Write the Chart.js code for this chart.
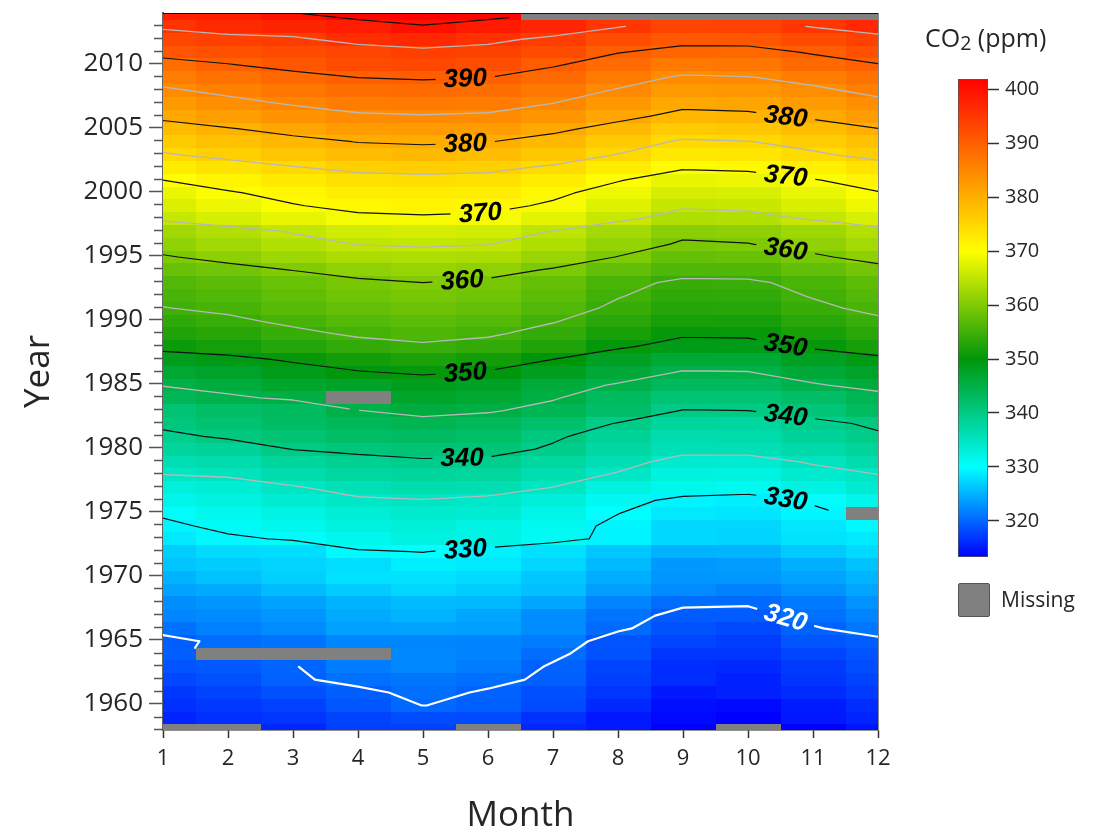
<!DOCTYPE html>
<html>
<head>
<meta charset="utf-8">
<script src="https://cdn.jsdelivr.net/npm/chart.js@4.4.1/dist/chart.umd.min.js"></script>
<style>
  body { margin: 0; background: #fff; }
  #wrap { position: relative; width: 1094px; height: 837px; font-family: 'Open Sans', sans-serif; color: #262626; }
  #main { position: absolute; left: 0; top: 0; }
  #bar { position: absolute; left: 900px; top: 0; }
  .txt { position: absolute; white-space: nowrap; }
  #cbTitle { left: 925px; top: 22px; font-size: 25px; line-height: 30px; }
  #cbTitle sub { font-size: 0.78em; vertical-align: -0.15em; }
  #missBox { position: absolute; left: 958px; top: 583px; width: 30px; height: 32px; background: #808080; border: 1px solid #555; border-radius: 2px; }
  #missText { left: 1001px; top: 585px; font-size: 21px; line-height: 28px; }
</style>
</head>
<body>
<div id="wrap">
  <canvas id="main" width="1094" height="837"></canvas>
  <canvas id="bar" width="194" height="600"></canvas>
  <div class="txt" id="cbTitle">CO<sub>2</sub> (ppm)</div>
  <div id="missBox"></div>
  <div class="txt" id="missText">Missing</div>
</div>
<script>
'use strict';

// ******** DATA **************
let months = [1, 2, 3, 4, 5, 6, 7, 8, 9, 10, 11, 12];
let firstYear = 1958;

// monthly mean CO2 (ppm), one row per year from 1958, null = missing
let co2Rows = [
  [null, null, 315.71, 317.45, 317.50, null, 315.86, 314.93, 313.20, null, 313.33, 314.67], // 1958
  [315.62, 316.38, 316.71, 317.72, 318.29, 318.15, 316.54, 314.80, 313.84, 313.26, 314.80, 315.58],
  [316.43, 316.97, 317.58, 319.02, 320.03, 319.59, 318.18, 315.91, 314.16, 313.83, 315.00, 316.19], // 1960
  [316.93, 317.70, 318.54, 319.48, 320.58, 319.77, 318.57, 316.79, 314.80, 315.38, 316.10, 317.01],
  [317.94, 318.56, 319.68, 320.63, 321.01, 320.55, 319.58, 317.40, 316.26, 315.42, 316.69, 317.69],
  [318.74, 319.08, 319.86, 321.39, 322.25, 321.47, 319.74, 317.77, 316.21, 315.99, 317.12, 318.31],
  [319.57, null, null, null, 322.23, 321.89, 320.44, 318.70, 316.70, 316.79, 317.79, 318.71],
  [319.44, 320.44, 320.89, 322.13, 322.16, 321.87, 321.39, 318.81, 317.81, 317.30, 318.87, 319.42], // 1965
  [320.62, 321.59, 322.39, 323.87, 324.01, 323.75, 322.39, 320.37, 318.64, 318.10, 319.79, 321.08],
  [322.07, 322.50, 323.04, 324.42, 325.00, 324.09, 322.55, 320.92, 319.31, 319.31, 320.72, 321.96],
  [322.57, 323.15, 323.89, 325.02, 325.57, 325.36, 324.14, 322.03, 320.41, 320.25, 321.31, 322.84],
  [324.00, 324.42, 325.64, 326.66, 327.38, 326.70, 325.89, 323.67, 322.38, 321.78, 322.85, 324.11],
  [325.03, 325.99, 326.87, 328.13, 328.07, 327.66, 326.35, 324.69, 323.10, 323.16, 323.98, 325.13], // 1970
  [326.17, 326.68, 327.18, 327.78, 328.92, 328.57, 327.34, 325.46, 323.36, 323.57, 324.80, 326.01],
  [326.77, 327.63, 327.75, 329.72, 330.07, 329.09, 328.05, 326.32, 324.93, 325.06, 326.50, 327.55],
  [328.54, 329.56, 330.30, 331.50, 332.48, 332.07, 330.87, 329.31, 327.51, 327.18, 328.16, 328.64],
  [329.35, 330.71, 331.48, 332.65, 333.09, 332.25, 331.18, 329.40, 327.43, 327.37, 328.46, 329.57],
  [330.40, 331.40, 332.04, 333.31, 333.96, 333.59, 331.91, 330.06, 328.56, 328.34, 329.49, null], // 1975
  [331.75, 332.56, 333.50, 334.58, 334.87, 334.34, 333.05, 330.94, 329.30, 328.94, 330.31, 331.68],
  [332.93, 333.42, 334.70, 336.07, 336.74, 336.27, 334.93, 332.75, 331.58, 331.16, 332.40, 333.85],
  [334.97, 335.39, 336.64, 337.76, 338.01, 337.89, 336.54, 334.68, 332.76, 332.54, 333.92, 334.95],
  [336.23, 336.76, 337.96, 338.89, 339.47, 339.29, 337.73, 336.09, 333.91, 333.86, 335.29, 336.73],
  [338.01, 338.36, 340.08, 340.77, 341.46, 341.17, 339.56, 337.60, 335.88, 336.01, 337.10, 338.21], // 1980
  [339.23, 340.47, 341.38, 342.51, 342.91, 342.25, 340.49, 338.43, 336.69, 336.86, 338.36, 339.61],
  [340.75, 341.61, 342.70, 343.56, 344.13, 343.35, 342.06, 339.82, 337.97, 337.86, 339.26, 340.49],
  [341.38, 342.52, 343.10, 344.94, 345.75, 345.32, 343.99, 342.39, 339.86, 339.99, 341.16, 342.99],
  [343.82, 344.63, 345.38, null, 347.19, 346.54, 345.26, 343.13, 341.44, 341.34, 342.49, 343.99],
  [345.12, 345.82, 347.23, 347.62, 348.53, 347.87, 346.00, 344.77, 343.24, 343.31, 344.72, 345.94], // 1985
  [346.8, 347.5, 348.7, 349.8, 350.4, 349.8, 348.3, 346.3, 344.8, 344.9, 346.3, 347.6],
  [348.5, 349.2, 350.4, 351.5, 352.1, 351.5, 350.0, 348.0, 346.5, 346.6, 348.0, 349.3],
  [350.9, 351.6, 352.8, 353.9, 354.5, 353.9, 352.4, 350.4, 348.9, 349.0, 350.4, 351.7],
  [352.4, 353.1, 354.3, 355.4, 356.0, 355.4, 353.9, 351.9, 350.4, 350.5, 351.9, 353.2],
  [353.7, 354.4, 355.6, 356.7, 357.3, 356.7, 355.2, 353.2, 351.7, 351.8, 353.2, 354.5], // 1990
  [354.9, 355.6, 356.8, 357.9, 358.5, 357.9, 356.4, 354.4, 352.9, 353.0, 354.4, 355.7],
  [355.7, 356.4, 357.6, 358.7, 359.3, 358.7, 357.2, 355.2, 353.7, 353.8, 355.2, 356.5],
  [356.4, 357.1, 358.3, 359.4, 360.0, 359.4, 357.9, 355.9, 354.4, 354.5, 355.9, 357.2],
  [358.2, 358.9, 360.1, 361.2, 361.8, 361.2, 359.7, 357.7, 356.2, 356.3, 357.7, 359.0],
  [359.7, 361.0, 362.3, 363.4, 363.7, 363.4, 362.0, 359.9, 357.9, 358.2, 359.5, 361.1], // 1995
  [361.4, 362.7, 364.0, 365.1, 365.4, 365.1, 363.7, 361.6, 359.6, 359.9, 361.2, 362.8],
  [362.6, 363.9, 365.2, 366.3, 366.6, 366.3, 364.9, 362.8, 360.8, 361.1, 362.4, 364.0],
  [365.5, 366.8, 368.1, 369.2, 369.5, 369.2, 367.8, 365.7, 363.7, 364.0, 365.3, 366.9],
  [367.2, 368.5, 369.8, 370.9, 371.2, 370.9, 369.5, 367.4, 365.4, 365.7, 367.0, 368.6],
  [368.4, 369.7, 371.0, 372.1, 372.4, 372.1, 370.7, 368.6, 366.6, 366.9, 368.2, 369.8], // 2000
  [370.0, 371.3, 372.6, 373.7, 374.0, 373.7, 372.3, 370.2, 368.2, 368.5, 369.8, 371.4],
  [372.2, 373.5, 374.8, 375.9, 376.2, 375.9, 374.5, 372.4, 370.4, 370.7, 372.0, 373.6],
  [374.7, 376.0, 377.3, 378.4, 378.7, 378.4, 377.0, 374.9, 372.9, 373.2, 374.5, 376.1],
  [376.4, 377.7, 379.0, 380.1, 380.4, 380.1, 378.7, 376.6, 374.6, 374.9, 376.2, 377.8],
  [378.47, 379.76, 381.14, 382.20, 382.47, 382.20, 380.78, 378.73, 376.66, 376.98, 378.29, 379.92], // 2005
  [380.8, 382.1, 383.4, 384.5, 384.8, 384.5, 383.1, 381.0, 379.0, 379.3, 380.6, 382.2],
  [382.7, 384.0, 385.3, 386.4, 386.7, 386.4, 385.0, 382.9, 380.9, 381.2, 382.5, 384.1],
  [384.5, 385.8, 387.1, 388.2, 388.5, 388.2, 386.8, 384.7, 382.7, 383.0, 384.3, 385.9],
  [386.3, 387.6, 388.9, 390.0, 390.3, 390.0, 388.6, 386.5, 384.5, 384.8, 386.1, 387.7],
  [388.45, 389.82, 391.08, 392.46, 393.05, 392.21, 390.28, 388.52, 386.84, 387.16, 388.67, 389.81], // 2010
  [391.33, 391.86, 392.60, 393.25, 394.19, 393.73, 392.51, 390.13, 389.08, 389.00, 390.28, 391.86],
  [393.12, 393.86, 394.40, 396.18, 396.78, 395.82, 394.24, 392.45, 390.90, 391.12, 392.57, 393.80],
  [395.55, 396.80, 397.43, 398.41, 399.78, 398.60, 397.32, 395.20, 393.45, 393.70, 395.16, 396.84],
  [397.85, 398.01, 399.77, 401.38, 401.78, 401.25, null, null, null, null, null, null] // 2014
];
let years = co2Rows.map((row, i) => firstYear + i);

// tick labels
let yTickLabels = [1960, 1965, 1970, 1975, 1980, 1985, 1990, 1995, 2000, 2005, 2010];
let cbTickLabels = [320, 330, 340, 350, 360, 370, 380, 390, 400];

// contour levels
let whiteLevels = [320];
let blackLevels = [330, 340, 350, 360, 370, 380, 390, 400];
let grayLevels = [335, 345, 355, 365, 375, 385, 395];

// contour labels (level, month where the label sits)
let labelLevels = [390, 380, 370, 360, 350, 340, 330, 380, 370, 360, 350, 340, 330, 320];
let labelMonths = [5.65, 5.65, 5.88, 5.6, 5.65, 5.6, 5.65, 10.58, 10.58, 10.58, 10.58, 10.58, 10.58, 10.58];

// colour map
let cmapValues = [313.3, 330, 350, 370, 401.9];
let cmapColors = [[0, 0, 255], [0, 255, 255], [0, 150, 10], [255, 255, 0], [255, 0, 0]];
let missingColor = '#808080';

// axis ranges
let yMin = 1957.95;
let yMax = 2013.93;
let rowShift = -0.12;

// *********** HELPER FUNCTIONS ***************
function colorFor(v) {
  let n = cmapValues.length;
  if (v <= cmapValues[0]) return 'rgb(' + cmapColors[0].join(',') + ')';
  if (v >= cmapValues[n - 1]) return 'rgb(' + cmapColors[n - 1].join(',') + ')';
  for (let i = 0; i < n - 1; i++) {
    if (v <= cmapValues[i + 1]) {
      let t = (v - cmapValues[i]) / (cmapValues[i + 1] - cmapValues[i]);
      let c = cmapColors[i].map((a, k) => Math.round(a + t * (cmapColors[i + 1][k] - a)));
      return 'rgb(' + c.join(',') + ')';
    }
  }
}

function crossPoint(p, q, level) {
  let t = (level - p.v) / (q.v - p.v);
  return { x: p.x + t * (q.x - p.x), y: p.y + t * (q.y - p.y) };
}

// marching squares on the month x year grid, triangles where one corner is missing
function contourSegments(level) {
  let segs = [];
  for (let i = 0; i < co2Rows.length - 1; i++) {
    for (let j = 0; j < months.length - 1; j++) {
      let x0 = months[j], x1 = months[j + 1];
      let y0 = years[i] + rowShift, y1 = years[i + 1] + rowShift;
      let corners = [
        { x: x0, y: y0, v: co2Rows[i][j] },
        { x: x1, y: y0, v: co2Rows[i][j + 1] },
        { x: x1, y: y1, v: co2Rows[i + 1][j + 1] },
        { x: x0, y: y1, v: co2Rows[i + 1][j] }
      ];
      let valid = corners.filter(p => p.v !== null);
      if (valid.length < 3) continue;
      let pts = [];
      let n = valid.length;
      for (let k = 0; k < n; k++) {
        let p = valid[k], q = valid[(k + 1) % n];
        if ((p.v < level) !== (q.v < level)) pts.push(crossPoint(p, q, level));
      }
      if (pts.length === 2) {
        segs.push([pts[0], pts[1]]);
      } else if (pts.length === 4) {
        segs.push([pts[0], pts[3]]);
        segs.push([pts[1], pts[2]]);
      }
    }
  }
  return segs;
}

let segCache = {};
function lineData(level) {
  let segs = contourSegments(level);
  segCache[level] = segs;
  let out = [];
  segs.forEach(s => {
    out.push(s[0], s[1], { x: s[1].x, y: null });
  });
  return out;
}

function contourYAt(level, month) {
  let segs = segCache[level] || [];
  for (let s of segs) {
    let p = s[0], q = s[1];
    if (p.x === q.x) continue;
    if ((p.x - month) * (q.x - month) <= 0) {
      let t = (month - p.x) / (q.x - p.x);
      return p.y + t * (q.y - p.y);
    }
  }
  return null;
}

let labelFont = 'italic bold 26px "Liberation Sans", Arial, sans-serif';

function labelBoxes(chart) {
  let xs = chart.scales.x, ys = chart.scales.y;
  let ctx = chart.ctx;
  ctx.save();
  ctx.font = labelFont;
  let boxes = [];
  for (let i = 0; i < labelLevels.length; i++) {
    let lv = labelLevels[i], m = labelMonths[i];
    let y = contourYAt(lv, m);
    let ya = contourYAt(lv, m - 0.35), yb = contourYAt(lv, m + 0.35);
    if (y === null) continue;
    if (ya === null) ya = y;
    if (yb === null) yb = y;
    let ang = Math.atan2(ys.getPixelForValue(yb) - ys.getPixelForValue(ya),
      xs.getPixelForValue(m + 0.35) - xs.getPixelForValue(m - 0.35));
    let text = String(lv);
    boxes.push({
      text: text, level: lv, ang: ang,
      px: xs.getPixelForValue(m), py: ys.getPixelForValue(y),
      w: ctx.measureText(text).width + 16, h: 24
    });
  }
  ctx.restore();
  return boxes;
}

// *********** PLUGINS *****************
let heatmapPlugin = {
  id: 'heatmap',
  beforeDatasetsDraw(chart) {
    let ctx = chart.ctx;
    let area = chart.chartArea;
    let xs = chart.scales.x, ys = chart.scales.y;
    ctx.save();
    ctx.beginPath();
    ctx.rect(area.left, area.top, area.right - area.left, area.bottom - area.top);
    ctx.clip();
    for (let i = 0; i < co2Rows.length; i++) {
      for (let j = 0; j < months.length; j++) {
        let v = co2Rows[i][j];
        let L = Math.round(xs.getPixelForValue(months[j] - 0.5));
        let R = Math.round(xs.getPixelForValue(months[j] + 0.5));
        let T = Math.round(ys.getPixelForValue(years[i] + rowShift + 0.5));
        let B = Math.round(ys.getPixelForValue(years[i] + rowShift - 0.5));
        ctx.fillStyle = v === null ? missingColor : colorFor(v);
        ctx.fillRect(L, T, R - L, B - T);
      }
    }
    ctx.restore();

    // cut gaps in the contour lines where the labels go
    chart.$labels = labelBoxes(chart);
    ctx.save();
    ctx.beginPath();
    ctx.rect(area.left, area.top, area.right - area.left, area.bottom - area.top);
    chart.$labels.forEach(b => {
      let c = Math.cos(b.ang), s = Math.sin(b.ang);
      let hw = b.w / 2, hh = b.h / 2;
      let corners = [[-hw, -hh], [hw, -hh], [hw, hh], [-hw, hh]];
      corners.forEach((p, k) => {
        let X = b.px + p[0] * c - p[1] * s;
        let Y = b.py + p[0] * s + p[1] * c;
        if (k === 0) ctx.moveTo(X, Y); else ctx.lineTo(X, Y);
      });
      ctx.closePath();
    });
    ctx.clip('evenodd');
  },
  afterDatasetsDraw(chart) {
    let ctx = chart.ctx;
    ctx.restore();
    ctx.save();
    ctx.font = labelFont;
    ctx.textAlign = 'center';
    ctx.textBaseline = 'middle';
    chart.$labels.forEach(b => {
      ctx.save();
      ctx.translate(b.px, b.py);
      ctx.rotate(b.ang);
      ctx.fillStyle = b.level === 320 ? '#ffffff' : '#000000';
      ctx.fillText(b.text, 0, 1);
      ctx.restore();
    });
    ctx.restore();
  },
  afterDraw(chart) {
    let ctx = chart.ctx;
    let area = chart.chartArea;
    let ys = chart.scales.y;
    ctx.save();
    // minor year ticks
    ctx.strokeStyle = '#555';
    ctx.lineWidth = 1.5;
    years.forEach(yr => {
      if (yr % 5 === 0 || yr > yMax) return;
      let py = Math.round(ys.getPixelForValue(yr)) + 0.5;
      ctx.beginPath();
      ctx.moveTo(area.left - 9, py);
      ctx.lineTo(area.left, py);
      ctx.stroke();
    });
    // top and right frame
    ctx.lineWidth = 1;
    ctx.strokeStyle = '#111';
    ctx.beginPath();
    ctx.moveTo(area.left, area.top + 0.5);
    ctx.lineTo(area.right, area.top + 0.5);
    ctx.stroke();
    ctx.strokeStyle = '#888';
    ctx.beginPath();
    ctx.moveTo(area.right + 0.5, area.top);
    ctx.lineTo(area.right + 0.5, area.bottom);
    ctx.stroke();
    ctx.restore();
  }
};

// ********* DATASETS *******************
let datasets = [];
grayLevels.forEach(lv => datasets.push({
  data: lineData(lv), borderColor: '#b8b8b8', borderWidth: 1.3
}));
blackLevels.forEach(lv => datasets.push({
  data: lineData(lv), borderColor: '#111111', borderWidth: 1.2
}));
whiteLevels.forEach(lv => datasets.push({
  data: lineData(lv), borderColor: '#ffffff', borderWidth: 2.2
}));
datasets.forEach(d => {
  d.showLine = true;
  d.pointRadius = 0;
  d.borderCapStyle = 'round';
  d.borderJoinStyle = 'round';
  d.spanGaps = false;
});

let axisFont = 'Open Sans';

new Chart(document.getElementById('main'), {
  type: 'scatter',
  data: { datasets: datasets },
  plugins: [heatmapPlugin],
  options: {
    responsive: false,
    animation: false,
    layout: { padding: { left: 0, top: 13, right: 216, bottom: 0 } },
    plugins: { legend: { display: false }, tooltip: { enabled: false } },
    scales: {
      x: {
        type: 'linear', min: 1, max: 12,
        afterBuildTicks: s => { s.ticks = months.map(v => ({ value: v })); },
        afterFit: s => { s.height = 107; s.paddingLeft = 0; s.paddingRight = 0; },
        ticks: { autoSkip: false, maxRotation: 0, padding: 8, color: '#262626', font: { family: axisFont, size: 22 } },
        grid: { drawOnChartArea: false, tickLength: 8, tickColor: '#333', tickWidth: 1.5 },
        border: { color: '#222', width: 1.5 },
        title: { display: true, text: 'Month', color: '#262626', font: { family: axisFont, size: 35 }, padding: { top: 0, bottom: 0 } }
      },
      y: {
        type: 'linear', min: yMin, max: yMax,
        afterBuildTicks: s => { s.ticks = years.filter(v => v <= yMax).map(v => ({ value: v })); },
        afterFit: s => { s.width = 163; s.paddingTop = 0; s.paddingBottom = 0; },
        ticks: {
          autoSkip: false, padding: 6, color: '#262626', font: { family: axisFont, size: 26 },
          callback: v => yTickLabels.includes(v) ? String(v) : ''
        },
        grid: {
          drawOnChartArea: false, tickLength: 14, tickWidth: 1.5,
          tickColor: c => (c.tick && yTickLabels.includes(c.tick.value)) ? '#555' : 'rgba(0,0,0,0)'
        },
        border: { color: '#666', width: 2 },
        title: { display: true, text: 'Year', color: '#262626', font: { family: axisFont, size: 35 }, padding: { top: 18, bottom: 0 } }
      }
    }
  }
});

// ************** COLOUR BAR ************************
let cbMin = cmapValues[0];
let cbMax = cmapValues[cmapValues.length - 1];

new Chart(document.getElementById('bar'), {
  type: 'bar',
  data: {
    labels: [''],
    datasets: [{
      data: [[cbMin, cbMax]],
      barPercentage: 1,
      categoryPercentage: 1,
      borderWidth: 1,
      borderColor: '#555',
      borderSkipped: false,
      backgroundColor: c => {
        let chart = c.chart;
        if (!chart.chartArea) return '#888';
        let ys = chart.scales.y;
        let g = chart.ctx.createLinearGradient(0, ys.getPixelForValue(cbMin), 0, ys.getPixelForValue(cbMax));
        cmapValues.forEach((v, i) => {
          g.addColorStop((v - cbMin) / (cbMax - cbMin), 'rgb(' + cmapColors[i].join(',') + ')');
        });
        return g;
      }
    }]
  },
  options: {
    responsive: false,
    animation: false,
    layout: { padding: { left: 58, top: 79, right: 0, bottom: 43 } },
    plugins: { legend: { display: false }, tooltip: { enabled: false } },
    scales: {
      x: { display: false },
      y: {
        position: 'right', min: cbMin, max: cbMax,
        afterBuildTicks: s => { s.ticks = cbTickLabels.map(v => ({ value: v })); },
        afterFit: s => { s.width = 106; s.paddingTop = 0; s.paddingBottom = 0; },
        ticks: { padding: 6, color: '#262626', font: { family: axisFont, size: 20 } },
        grid: { drawOnChartArea: false, tickLength: 11, tickColor: '#333', tickWidth: 1.5 },
        border: { display: false }
      }
    }
  }
});
</script>
</body>
</html>
